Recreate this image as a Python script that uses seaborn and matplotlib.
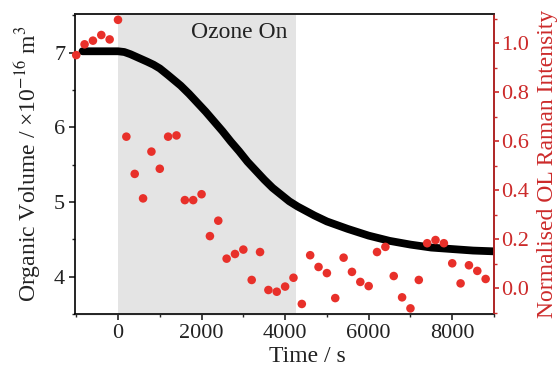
import numpy as np
import pandas as pd
import matplotlib
matplotlib.use("Agg")
import matplotlib.pyplot as plt
import seaborn as sns
from matplotlib.ticker import MultipleLocator, FormatStrFormatter

# ---- data ----
vol_time = [-850, -500, 0, 150, 300, 500, 700, 850, 1000, 1200, 1500, 1700, 1900, 2100,
            2300, 2500, 2700, 2900, 3100, 3300, 3500, 3700, 3900, 4100, 4300, 4500, 4700,
            5000, 5500, 6000, 6500, 7000, 7500, 8000, 8500, 8980]
vol_value = [7.02, 7.02, 7.02, 7.01, 6.98, 6.93, 6.88, 6.84, 6.79, 6.70, 6.56, 6.45, 6.33,
             6.21, 6.08, 5.95, 5.81, 5.68, 5.54, 5.42, 5.30, 5.19, 5.10, 5.01, 4.94, 4.88,
             4.82, 4.74, 4.64, 4.55, 4.48, 4.43, 4.39, 4.37, 4.35, 4.34]

raman_time = [-1000, -800, -600, -400, -200, 0, 200, 400, 600, 800, 1000, 1200, 1400,
              1600, 1800, 2000, 2200, 2400, 2600, 2800, 3000, 3200, 3400, 3600, 3800,
              4000, 4200, 4400, 4600, 4800, 5000, 5200, 5400, 5600, 5800, 6000, 6200,
              6400, 6600, 6800, 7000, 7200, 7400, 7600, 7800, 8000, 8200, 8400, 8600, 8800]
raman_value = [0.952, 0.996, 1.011, 1.034, 1.016, 1.096, 0.619, 0.467, 0.367, 0.558,
               0.488, 0.619, 0.624, 0.360, 0.360, 0.384, 0.213, 0.276, 0.121, 0.140,
               0.158, 0.034, 0.148, -0.007, -0.014, 0.007, 0.043, -0.064, 0.135, 0.087,
               0.062, -0.040, 0.125, 0.067, 0.026, 0.009, 0.148, 0.169, 0.050, -0.037,
               -0.082, 0.034, 0.184, 0.197, 0.184, 0.102, 0.020, 0.094, 0.071, 0.038]

ozone_start, ozone_end = 0, 4250

vol_df = pd.DataFrame({"Time": vol_time, "Volume": vol_value})
raman_df = pd.DataFrame({"Time": raman_time, "Raman": raman_value})

sns.set_style("ticks")
plt.rcParams["font.family"] = ["Liberation Serif", "DejaVu Serif"]
plt.rcParams["mathtext.fontset"] = "stix"

RED = "#cc2a2a"
TICK_FS = 16
LABEL_FS = 17
fig = plt.figure(figsize=(5.57, 3.67), dpi=100)
ax = fig.add_axes([0.1346, 0.1444, 0.7523, 0.8176])

ax.axvspan(ozone_start, ozone_end, color="#e4e4e4", zorder=0, lw=0)

sns.lineplot(data=vol_df, x="Time", y="Volume", ax=ax, color="black",
             linewidth=5.6, solid_capstyle="round", zorder=3)

ax.set_xlim(-1030, 9000)
ax.set_ylim(3.5, 7.52)
ax.xaxis.set_major_locator(MultipleLocator(2000))
ax.xaxis.set_minor_locator(MultipleLocator(1000))
ax.yaxis.set_major_locator(MultipleLocator(1))
ax.yaxis.set_minor_locator(MultipleLocator(0.5))
ax.tick_params(which="major", direction="out", length=4, width=1.2, labelsize=TICK_FS,
               colors="#222222", pad=3)
ax.tick_params(which="minor", direction="out", length=2.5, width=1.0)
ax.set_xlabel("Time / s", fontsize=LABEL_FS, color="#222222")
ax.xaxis.set_label_coords(0.555, -0.105)
ax.set_ylabel("Organic Volume / ×10$^{-16}$ m$^{3}$", fontsize=LABEL_FS, color="#222222")
ax.yaxis.set_label_coords(-0.077, 0.5)
for s in ax.spines.values():
    s.set_linewidth(1.2)
    s.set_color("black")

ax.text(2900, 7.27, "Ozone On", fontsize=LABEL_FS, ha="center", va="center", color="#222222")

ax2 = ax.twinx()
sns.scatterplot(data=raman_df, x="Time", y="Raman", ax=ax2, color="#e8302a",
                s=38, edgecolor="none", zorder=4, clip_on=False)
ax2.set_ylim(-0.105, 1.12)
ax2.yaxis.set_major_locator(MultipleLocator(0.2))
ax2.yaxis.set_minor_locator(MultipleLocator(0.1))
ax2.yaxis.set_major_formatter(FormatStrFormatter("%.1f"))
ax2.tick_params(which="major", direction="out", length=3.5, width=1.2, labelsize=TICK_FS,
                colors=RED, pad=1.5)
ax2.tick_params(which="minor", direction="out", length=2.2, width=1.0, colors=RED)
ax2.set_ylabel("Normalised OL Raman Intensity", fontsize=LABEL_FS, color=RED)
ax2.yaxis.set_label_coords(1.103, 0.5)
ax2.spines["right"].set_color(RED)
ax2.spines["right"].set_linewidth(1.2)
ax2.spines["left"].set_visible(False)
ax2.spines["top"].set_linewidth(1.2)
ax2.set_xlim(-1030, 9000)

fig.savefig("out.png", dpi=100)
